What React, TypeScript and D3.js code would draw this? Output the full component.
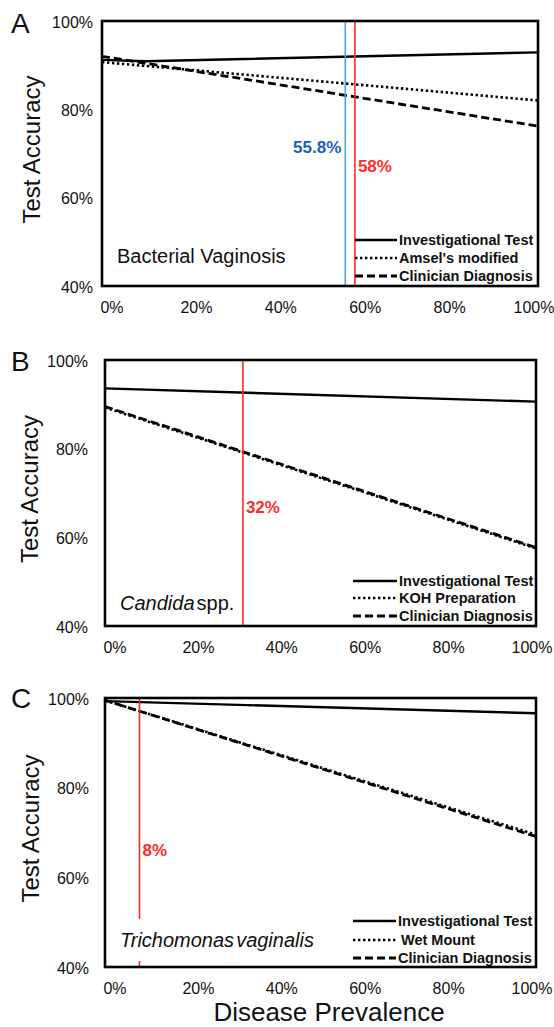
import * as d3 from "d3";

// tick values
const xTicks = [0, 0.2, 0.4, 0.6, 0.8, 1];
const yTicks = [0.4, 0.6, 0.8, 1.0];

// [prevalence, accuracy] pairs
const bvInvestigational = [[0, 0.912], [0.1, 0.909], [1, 0.929]];
const bvAmsel = [[0, 0.907], [1, 0.82]];
const bvClinician = [[0, 0.92], [1, 0.762]];
const bvCutoffs = [0.558, 0.58];
const bvNames = ["Investigational Test", "Amsel's modified", "Clinician Diagnosis"];

const candInvestigational = [[0, 0.936], [1, 0.906]];
const candKoh = [[0, 0.893], [1, 0.575]];
const candClinician = [[0, 0.895], [1, 0.577]];
const candCutoffs = [0.32];
const candNames = ["Investigational Test", "KOH Preparation", "Clinician Diagnosis"];

const trichInvestigational = [[0, 0.993], [1, 0.966]];
const trichWetMount = [[0, 0.995], [1, 0.695]];
const trichClinician = [[0, 0.995], [1, 0.691]];
const trichCutoffs = [0.08];
const trichNames = ["Investigational Test", "Wet Mount", "Clinician Diagnosis"];

const FONT = "'Liberation Sans', Arial, sans-serif";
const RED = "#ff2a2a";
const BLUE_LINE = "#4ea3e3";
const BLUE_TEXT = "#1c5cc4";

// line styles: solid, dotted, dashed
const styles = [
  { dash: undefined, width: 2.4 },
  { dash: "2.4,2.6", width: 2.6 },
  { dash: "8,4", width: 2.8 },
];

const panels = [
  {
    letter: "A", letterY: 33,
    box: { left: 102, right: 538, top: 21, bottom: 286 },
    tickRight: 93, yTitleX: 40,
    series: [bvInvestigational, bvAmsel, bvClinician],
    names: bvNames,
    cutoffs: bvCutoffs,
    cutoffStyle: [
      { line: BLUE_LINE, text: BLUE_TEXT, anchor: "end", dx: -4, y: 153 },
      { line: RED, text: RED, anchor: "start", dx: 3, y: 172 },
    ],
    label: [{ t: "Bacterial Vaginosis", italic: false }],
    labelY: 263, labelBg: false,
    legendX: [355, 397], legendRows: [-46, -28, -10],
  },
  {
    letter: "B", letterY: 371,
    box: { left: 105, right: 536, top: 360, bottom: 626 },
    tickRight: 88, yTitleX: 38,
    series: [candInvestigational, candKoh, candClinician],
    names: candNames,
    cutoffs: candCutoffs,
    cutoffStyle: [{ line: RED, text: RED, anchor: "start", dx: 3, y: 513 }],
    label: [{ t: "Candida", italic: true }, { t: "spp.", italic: false }],
    labelY: 610, labelBg: false,
    legendX: [353, 397], legendRows: [-45, -28, -10],
  },
  {
    letter: "C", letterY: 708,
    box: { left: 105, right: 536, top: 698, bottom: 967 },
    tickRight: 89, yTitleX: 39,
    series: [trichInvestigational, trichWetMount, trichClinician],
    names: trichNames,
    cutoffs: trichCutoffs,
    cutoffStyle: [{ line: RED, text: RED, anchor: "start", dx: 3, y: 856 }],
    label: [{ t: "Trichomonas", italic: true }, { t: "vaginalis", italic: true }],
    labelY: 947, labelBg: true,
    legendX: [353, 396], legendRows: [-46, -27, -9],
  },
];

function Panel({ p }: { p: any }) {
  const { box } = p;
  const x = d3.scaleLinear().domain([0, 1]).range([box.left, box.right]);
  const y = d3.scaleLinear().domain([0.4, 1]).range([box.bottom, box.top]);
  // tick labels sit a little inside the frame, like the original export
  const xLab = d3.scaleLinear().domain([0, 1]).range([box.left + 10, box.right - 4]);
  const line = d3
    .line<number[]>()
    .x((d) => x(d[0]))
    .y((d) => y(d[1]));
  const fmt = d3.format(".0%");

  return (
    <g fontFamily={FONT}>
      <text x={11} y={p.letterY} fontSize={28} fill="#111">
        {p.letter}
      </text>

      <text
        transform={`translate(${p.yTitleX},${(box.top + box.bottom) / 2 - 4}) rotate(-90)`}
        textAnchor="middle"
        fontSize={24}
        fill="#111"
      >
        Test Accuracy
      </text>

      {yTicks.map((t) => (
        <text key={t} x={p.tickRight} y={y(t) + 1} dy="0.35em" textAnchor="end" fontSize={16} fill="#111">
          {fmt(t)}
        </text>
      ))}
      {xTicks.map((t) => (
        <text key={t} x={xLab(t)} y={box.bottom + 21} dy="0.35em" textAnchor="middle" fontSize={16} fill="#111">
          {fmt(t)}
        </text>
      ))}

      {/* series, dotted drawn under dashed */}
      {[1, 2, 0].map((i) => (
        <path
          key={i}
          d={line(p.series[i]) || ""}
          fill="none"
          stroke="#000"
          strokeWidth={styles[i].width}
          strokeDasharray={styles[i].dash}
        />
      ))}

      {/* cutoff markers */}
      {p.cutoffs.map((c: number, i: number) => {
        const s = p.cutoffStyle[i];
        return (
          <g key={c}>
            <line x1={x(c)} x2={x(c)} y1={box.top} y2={box.bottom} stroke={s.line} strokeWidth={1.6} />
            <text
              x={x(c) + s.dx}
              y={s.y}
              textAnchor={s.anchor}
              fontSize={17}
              fontWeight="bold"
              fill={s.text}
            >
              {d3.format(".3~p")(c)}
            </text>
          </g>
        );
      })}

      {p.labelBg && <rect x={box.left + 10} y={p.labelY - 28} width={214} height={42} fill="#fff" />}
      <text x={box.left + 15} y={p.labelY} fontSize={20} fill="#111">
        {p.label.map((l: any, i: number) => (
          <tspan key={i} fontStyle={l.italic ? "italic" : "normal"} dx={i ? 2 : 0}>
            {l.t}
          </tspan>
        ))}
      </text>

      {/* legend */}
      {p.names.map((n: string, i: number) => {
        const ly = box.bottom + p.legendRows[i];
        return (
          <g key={n}>
            <line
              x1={p.legendX[0]}
              x2={p.legendX[1]}
              y1={ly}
              y2={ly}
              stroke="#000"
              strokeWidth={styles[i].width}
              strokeDasharray={styles[i].dash}
            />
            <text x={p.legendX[1] + (i === 1 && p.letter === "C" ? 5 : 2)} y={ly} dy="0.35em" fontSize={14.5} fontWeight="bold" fill="#111">
              {n}
            </text>
          </g>
        );
      })}

      <rect
        x={box.left}
        y={box.top}
        width={box.right - box.left}
        height={box.bottom - box.top}
        fill="none"
        stroke="#000"
        strokeWidth={2.6}
      />
    </g>
  );
}

export default function App() {
  return (
    <svg
      width={554}
      height={1027}
      style={{ position: "absolute", left: 0, top: 0, background: "#fff" }}
    >
      {panels.map((p) => (
        <Panel key={p.letter} p={p} />
      ))}
      <text x={329} y={1021} textAnchor="middle" fontFamily={FONT} fontSize={26} fill="#111">
        Disease Prevalence
      </text>
    </svg>
  );
}
